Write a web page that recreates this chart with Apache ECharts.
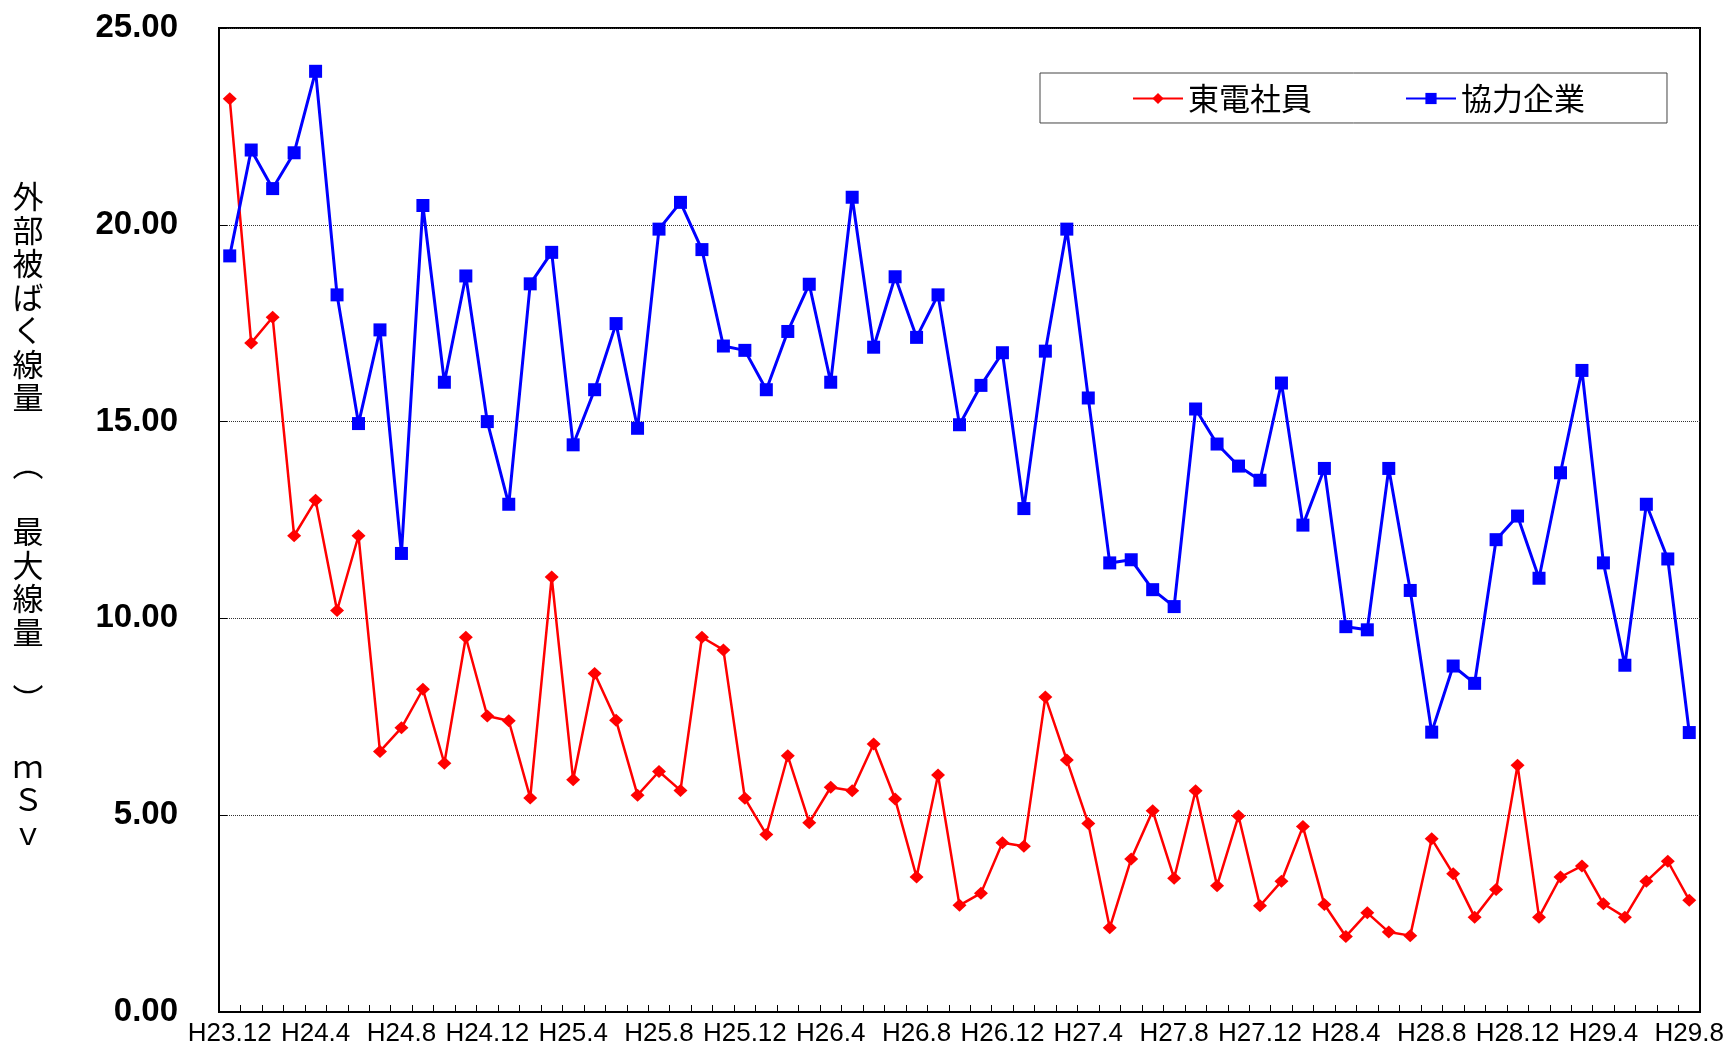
<!DOCTYPE html>
<html>
<head>
<meta charset="utf-8">
<script src="https://cdn.jsdelivr.net/npm/echarts@6/dist/echarts.min.js"></script>
<style>
html,body{margin:0;padding:0;background:#fff;}
#chart{width:1723px;height:1045px;}
</style>
</head>
<body>
<div id="chart"></div>
<script>
var categories = [
  'H23.12',
  'H24.1','H24.2','H24.3','H24.4','H24.5','H24.6','H24.7','H24.8','H24.9','H24.10','H24.11','H24.12',
  'H25.1','H25.2','H25.3','H25.4','H25.5','H25.6','H25.7','H25.8','H25.9','H25.10','H25.11','H25.12',
  'H26.1','H26.2','H26.3','H26.4','H26.5','H26.6','H26.7','H26.8','H26.9','H26.10','H26.11','H26.12',
  'H27.1','H27.2','H27.3','H27.4','H27.5','H27.6','H27.7','H27.8','H27.9','H27.10','H27.11','H27.12',
  'H28.1','H28.2','H28.3','H28.4','H28.5','H28.6','H28.7','H28.8','H28.9','H28.10','H28.11','H28.12',
  'H29.1','H29.2','H29.3','H29.4','H29.5','H29.6','H29.7','H29.8'
];

var tepcoValues = [
  23.2, 17.0, 17.65, 12.1, 13.0, 10.2, 12.1, 6.62, 7.22, 8.2, 6.32, 9.52,
  7.52, 7.40, 5.44, 11.05, 5.9, 8.6, 7.41, 5.51, 6.11, 5.63, 9.52, 9.2,
  5.43, 4.51, 6.51, 4.81, 5.71, 5.62, 6.81, 5.41, 3.43, 6.02, 2.71, 3.02,
  4.3, 4.21, 8.0, 6.4, 4.79, 2.14, 3.89, 5.11, 3.4, 5.62, 3.21, 4.98,
  2.70, 3.32, 4.71, 2.73, 1.92, 2.52, 2.03, 1.94, 4.4, 3.51, 2.41, 3.11,
  6.27, 2.41, 3.43, 3.71, 2.75, 2.41, 3.32, 3.83, 2.84
];

var contractorValues = [
  19.21, 21.9, 20.92, 21.83, 23.9, 18.22, 14.95, 17.33, 11.65, 20.49, 16.0, 18.7,
  15.0, 12.9, 18.5, 19.3, 14.41, 15.81, 17.49, 14.83, 19.89, 20.57, 19.37, 16.92,
  16.81, 15.81, 17.29, 18.49, 16.0, 20.7, 16.89, 18.68, 17.14, 18.22, 14.92, 15.92,
  16.75, 12.79, 16.79, 19.89, 15.6, 11.41, 11.49, 10.73, 10.3, 15.32, 14.43, 13.87,
  13.51, 15.98, 12.37, 13.81, 9.79, 9.71, 13.81, 10.71, 7.11, 8.79, 8.35, 12.0,
  12.6, 11.02, 13.7, 16.3, 11.41, 8.81, 12.9, 11.51, 7.1
];

var seriesNames = ['東電社員', '協力企業'];
var yAxisTitleChars = ['外','部','被','ば','く','線','量','　','︵','　','最','大','線','量','　','︶','　','ｍ','Ｓ','ｖ'];
var yMin = 0, yMax = 25, yInterval = 5;

var chart = echarts.init(document.getElementById('chart'), null, {renderer: 'canvas'});
var cjk = '"Noto Sans CJK JP", "Noto Sans CJK SC", sans-serif';

var option = {
  animation: false,
  backgroundColor: '#ffffff',
  grid: {
    left: 219, top: 28, right: 23, bottom: 33,
    containLabel: false,
    outerBoundsMode: 'none',
    show: true, borderColor: '#000', borderWidth: 2, backgroundColor: 'transparent'
  },
  legend: {
    left: 1040, top: 73,
    orient: 'horizontal',
    padding: [10, 82, 9, 92],
    itemGap: 93,
    itemWidth: 50,
    itemHeight: 14,
    borderColor: '#444',
    borderWidth: 1,
    backgroundColor: '#fff',
    textStyle: {fontFamily: cjk, fontSize: 31, color: '#000'},
    data: seriesNames
  },
  xAxis: {
    type: 'category',
    data: categories,
    boundaryGap: true,
    axisLine: {lineStyle: {color: '#000', width: 2}},
    axisTick: {show: true, inside: true, length: 7, interval: 0, lineStyle: {color: '#000', width: 1}},
    axisLabel: {
      interval: 3,
      margin: 9,
      color: '#000',
      fontSize: 26,
      fontFamily: '"Liberation Sans", Arial, sans-serif'
    },
    splitLine: {show: false}
  },
  yAxis: {
    type: 'value',
    min: yMin, max: yMax, interval: yInterval,
    axisLine: {show: true, lineStyle: {color: '#000', width: 2}},
    axisTick: {show: true, inside: true, length: 8, lineStyle: {color: '#000', width: 1}},
    axisLabel: {
      margin: 41,
      color: '#000',
      fontSize: 33,
      fontWeight: 'bold',
      fontFamily: '"Liberation Sans", Arial, sans-serif',
      formatter: function (v) { return v.toFixed(2); }
    },
    splitLine: {show: true, lineStyle: {color: '#333', width: 1, type: 'dotted'}}
  },
  graphic: [{
    type: 'text',
    x: 28, y: 514.5,
    style: {
      text: yAxisTitleChars.join('\n'),
      fontFamily: cjk,
      fontSize: 31,
      lineHeight: 33.5,
      fill: '#000',
      align: 'center',
      verticalAlign: 'middle'
    }
  }],
  series: [
    {
      name: seriesNames[0],
      type: 'line',
      data: tepcoValues,
      symbol: 'diamond',
      symbolSize: [14, 13],
      color: '#ff0000',
      lineStyle: {color: '#ff0000', width: 2.5},
      itemStyle: {color: '#ff0000'}
    },
    {
      name: seriesNames[1],
      type: 'line',
      data: contractorValues,
      symbol: 'rect',
      symbolSize: 13,
      color: '#0000ff',
      lineStyle: {color: '#0000ff', width: 3},
      itemStyle: {color: '#0000ff'}
    }
  ]
};
chart.setOption(option);
</script>
</body>
</html>
